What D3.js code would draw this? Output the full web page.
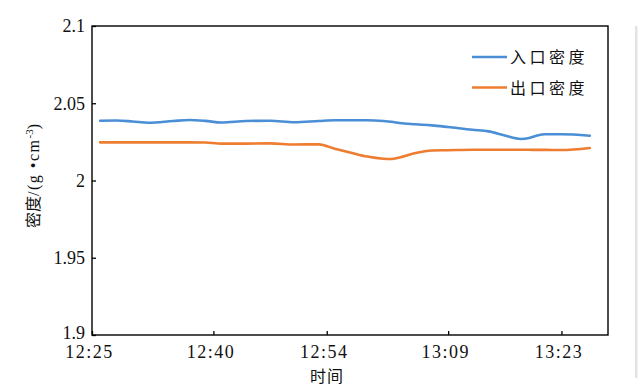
<!DOCTYPE html>
<html><head><meta charset="utf-8">
<script src="https://cdn.jsdelivr.net/npm/d3@7"></script>
<style>
html,body{margin:0;padding:0;background:#fff;}
svg{display:block;}
.num{font-family:"Liberation Serif","Times New Roman","DejaVu Serif",serif !important;}
.cjk{font-family:"Noto Sans CJK SC","Noto Sans CJK JP",sans-serif !important;}
</style></head>
<body>
<svg id="chart" width="643" height="392"></svg>
<script>
// ---- data ----
const times = ["12:26:00","12:28:00","12:30:00","12:32:00","12:35:00","12:37:00","12:39:00","12:41:00","12:44:00","12:47:00","12:50:00","12:53:00","12:55:00","12:57:00","12:59:00","13:01:00","13:02:00","13:03:00","13:05:00","13:07:00","13:09:00","13:12:00","13:14:00","13:16:00","13:18:00","13:19:00","13:20:00","13:21:00","13:23:00","13:26:30"];
const inletDensity  = [2.0387,2.0388,2.0382,2.0374,2.0385,2.0392,2.0386,2.0375,2.0385,2.0387,2.0377,2.0385,2.0390,2.0390,2.0390,2.0385,2.0380,2.0372,2.0364,2.0357,2.0346,2.0328,2.0318,2.0291,2.0269,2.0275,2.0291,2.0299,2.0299,2.0290];
const outletDensity = [2.0247,2.0247,2.0247,2.0247,2.0247,2.0247,2.0246,2.0239,2.0239,2.0240,2.0233,2.0234,2.0206,2.0180,2.0155,2.0141,2.0139,2.0149,2.0178,2.0194,2.0196,2.0199,2.0199,2.0199,2.0199,2.0199,2.0198,2.0198,2.0197,2.0210];
const seriesNames = ["入口密度","出口密度"];
const seriesColors = ["#4a8fd6","#ed7d31"];
const xTickLabels = ["12:25","12:40","12:54","13:09","13:23"];
const yTicks = [1.9,1.95,2,2.05,2.1];
const xDomain = ["12:25:00","13:28:45"];
const yDomain = [1.9,2.1];
const xTitle = "时间";

// ---- layout ----
const svg = d3.select("#chart");
const m = {left:92, right:608, top:26, bottom:335};
const parse = d3.timeParse("%H:%M:%S");
const parseHM = d3.timeParse("%H:%M");
const x = d3.scaleTime().domain(xDomain.map(parse)).range([m.left, m.right]);
const y = d3.scaleLinear().domain(yDomain).range([m.bottom, m.top]);

// decorative grey border at right (from screenshot)
svg.append("rect").attr("x",635).attr("y",26).attr("width",2.5).attr("height",352).attr("fill","#e3e3e3");

// frame
svg.append("rect").attr("x",m.left).attr("y",m.top).attr("width",m.right-m.left).attr("height",m.bottom-m.top)
  .attr("fill","none").attr("stroke","#000").attr("stroke-width",1.4);

// y axis
const yAxis = d3.axisLeft(y).tickValues(yTicks).tickSizeInner(-4).tickSizeOuter(0).tickPadding(7)
  .tickFormat(d => d3.format("")(+d.toFixed(2)));
const gy = svg.append("g").attr("transform",`translate(${m.left},0)`).call(yAxis);
gy.attr("font-family",null).attr("font-size",null);
gy.select(".domain").remove();
gy.selectAll("line").attr("stroke","#000").attr("stroke-width",1.3);
gy.selectAll("text").attr("class","num").attr("font-size",18).attr("fill","#111")
  .attr("dy", (d,i)=> i===0 ? "0.2em" : "0.32em");

// x axis
const xAxis = d3.axisBottom(x).tickValues(xTickLabels.map(parseHM)).tickSizeInner(-4).tickSizeOuter(0).tickPadding(10)
  .tickFormat(d3.timeFormat("%H:%M"));
const gx = svg.append("g").attr("transform",`translate(0,${m.bottom})`).call(xAxis);
gx.attr("font-family",null).attr("font-size",null);
gx.select(".domain").remove();
gx.selectAll("line").attr("stroke","#000").attr("stroke-width",1.3);
gx.selectAll("text").attr("class","num").attr("font-size",18).attr("fill","#111")
  .style("letter-spacing","1.5px").attr("dx",-3);

// lines
const pts = times.map(parse);
const series = [inletDensity, outletDensity];
const line = d3.line().x(d=>x(d[0])).y(d=>y(d[1])).curve(d3.curveMonotoneX);
series.forEach((vals,i)=>{
  svg.append("path").datum(pts.map((t,j)=>[t,vals[j]]))
    .attr("d",line).attr("fill","none").attr("stroke",seriesColors[i]).attr("stroke-width",2.6)
    .attr("stroke-linejoin","round").attr("stroke-linecap","round");
});

// legend
seriesNames.forEach((name,i)=>{
  const ly = 57 + i*30.5;
  svg.append("line").attr("x1",472).attr("x2",507).attr("y1",ly).attr("y2",ly)
    .attr("stroke",seriesColors[i]).attr("stroke-width",2.6);
  svg.append("text").attr("class","cjk").attr("x",510).attr("y",ly+6).attr("font-size",16)
    .attr("fill","#111").style("letter-spacing","3.5px").text(name);
});

// axis titles
svg.append("text").attr("class","cjk").attr("x",327).attr("y",382).attr("text-anchor","middle")
  .attr("fill","#111").attr("font-size",16).style("letter-spacing","1px").text(xTitle);

const yt = svg.append("text").attr("transform","translate(39,176) rotate(-90)").attr("text-anchor","middle")
  .attr("fill","#111").attr("font-size",16);
yt.append("tspan").attr("class","cjk").text("密度");
yt.append("tspan").attr("class","num").style("letter-spacing","1.5px").text("/(g •cm");
yt.append("tspan").attr("class","num").attr("dy",-6).attr("font-size",11).text("-3");
yt.append("tspan").attr("class","num").attr("dy",6).text(")");
</script>
</body></html>
